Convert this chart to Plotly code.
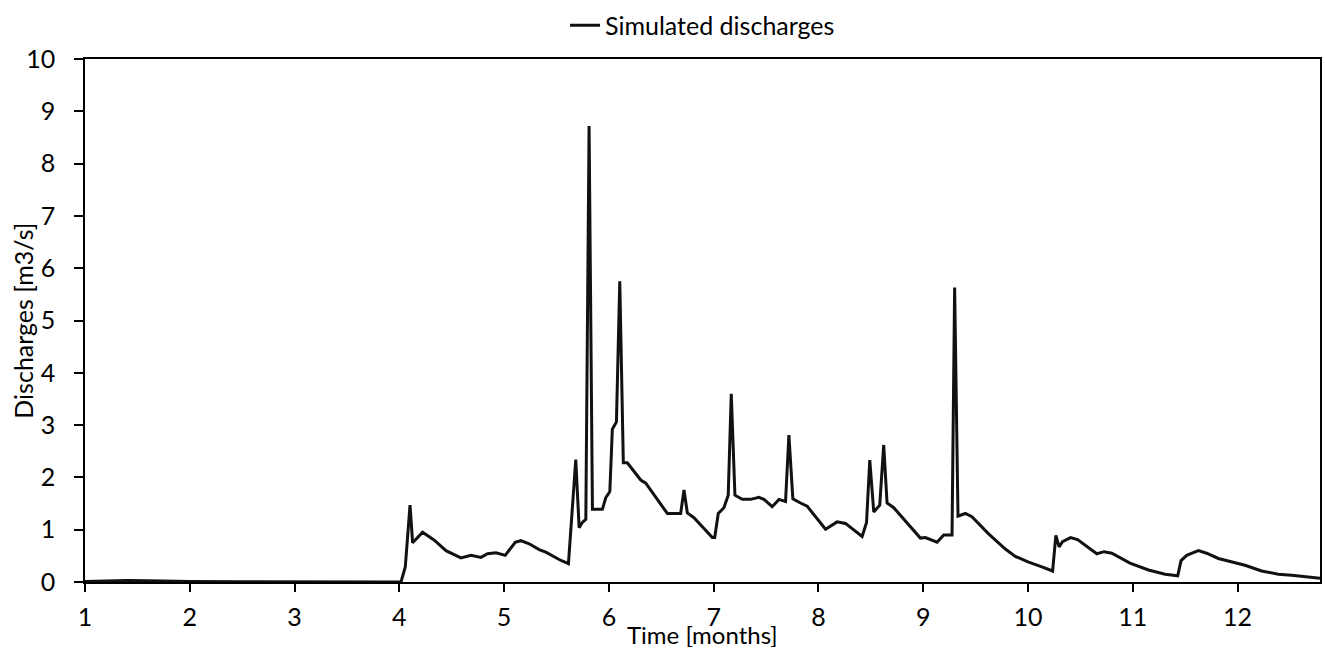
import plotly.graph_objects as go

# Time in months (x) and simulated discharges in m3/s (y)
months = [1.0, 1.2, 1.4, 1.6, 1.8, 2.0, 2.5, 3.0, 3.5, 4.0,
          4.016, 4.057, 4.102, 4.127, 4.222, 4.334, 4.445, 4.588, 4.684, 4.779,
          4.842, 4.922, 5.011, 5.106, 5.160, 5.239, 5.335, 5.398, 5.525, 5.614,
          5.684, 5.716, 5.747, 5.780, 5.811, 5.843, 5.938, 5.970, 6.009, 6.033,
          6.072, 6.104, 6.138, 6.176, 6.304, 6.352, 6.558, 6.685, 6.717, 6.749,
          6.812, 6.987, 7.010, 7.044, 7.098, 7.139, 7.168, 7.203, 7.273, 7.353,
          7.432, 7.480, 7.559, 7.623, 7.686, 7.718, 7.756, 7.829, 7.892, 8.068,
          8.178, 8.258, 8.417, 8.459, 8.490, 8.528, 8.585, 8.623, 8.655, 8.719,
          8.973, 9.021, 9.132, 9.196, 9.275, 9.300, 9.332, 9.402, 9.465, 9.624,
          9.784, 9.879, 10.006, 10.133, 10.235, 10.266, 10.297, 10.330, 10.406, 10.473,
          10.657, 10.726, 10.800, 10.973, 11.150, 11.309, 11.429, 11.461, 11.515, 11.626,
          11.705, 11.817, 11.944, 12.071, 12.230, 12.389, 12.516, 12.787]
discharges = [0.01, 0.02, 0.03, 0.025, 0.015, 0.01, 0.005, 0.0, 0.0, 0.0,
              0.0, 0.29, 1.47, 0.75, 0.95, 0.80, 0.60, 0.46, 0.51, 0.47,
              0.54, 0.56, 0.51, 0.76, 0.79, 0.73, 0.62, 0.57, 0.43, 0.35,
              2.34, 1.04, 1.14, 1.20, 8.72, 1.39, 1.39, 1.61, 1.73, 2.92,
              3.06, 5.75, 2.28, 2.28, 1.95, 1.89, 1.31, 1.31, 1.76, 1.32,
              1.23, 0.85, 0.85, 1.31, 1.42, 1.66, 3.60, 1.66, 1.58, 1.58,
              1.62, 1.58, 1.44, 1.58, 1.54, 2.81, 1.59, 1.51, 1.45, 1.01,
              1.15, 1.12, 0.87, 1.14, 2.33, 1.34, 1.47, 2.62, 1.51, 1.42,
              0.84, 0.85, 0.76, 0.90, 0.90, 5.63, 1.26, 1.31, 1.25, 0.92,
              0.63, 0.49, 0.38, 0.29, 0.21, 0.89, 0.67, 0.77, 0.85, 0.81,
              0.54, 0.58, 0.55, 0.36, 0.23, 0.15, 0.12, 0.41, 0.51, 0.60,
              0.55, 0.45, 0.38, 0.32, 0.21, 0.15, 0.13, 0.07]

x_ticks = list(range(1, 13))
y_ticks = list(range(0, 11))

FONT = "Lato"
FS = 25

fig = go.Figure()
fig.add_trace(go.Scatter(
    x=months, y=discharges, mode="lines", name="Simulated discharges",
    line=dict(color="#111111", width=3),
))

fig.update_layout(
    width=1325, height=653,
    margin=dict(l=85, r=3, t=51, b=71),
    paper_bgcolor="white", plot_bgcolor="white",
    font=dict(family=FONT, size=FS, color="black"),
    showlegend=True,
    legend=dict(orientation="h", x=0.5, xanchor="center", y=1.064, yanchor="middle",
                font=dict(family=FONT, size=FS, color="black"), bgcolor="rgba(0,0,0,0)"),
    xaxis=dict(range=[1, 12.787], tickvals=x_ticks, ticktext=[str(t) for t in x_ticks],
               showgrid=False, zeroline=False, showline=True, linecolor="black", linewidth=1.5,
               mirror=True, ticks="outside", ticklen=8, tickwidth=1.5, tickcolor="black",
               ticklabelstandoff=4,
               tickfont=dict(family=FONT, size=FS, color="black")),
    yaxis=dict(range=[0, 10], tickvals=y_ticks, ticktext=[str(t) for t in y_ticks],
               showgrid=False, zeroline=False, showline=True, linecolor="black", linewidth=1.5,
               mirror=True, ticks="outside", ticklen=9, tickwidth=1.5, tickcolor="black",
               ticklabelstandoff=14,
               tickfont=dict(family=FONT, size=FS, color="black")),
    annotations=[
        dict(text="Time [months]", xref="paper", yref="paper", x=0.5, y=-0.1,
             xanchor="center", yanchor="middle", showarrow=False, height=26,
             font=dict(family=FONT, size=FS - 1, color="black")),
        dict(text="Discharges [m3/s]", xref="paper", yref="paper", x=-0.0509, y=0.5,
             xanchor="center", yanchor="middle", textangle=-90, showarrow=False,
             font=dict(family=FONT, size=FS, color="black")),
    ],
)

fig.write_html("out.html")
